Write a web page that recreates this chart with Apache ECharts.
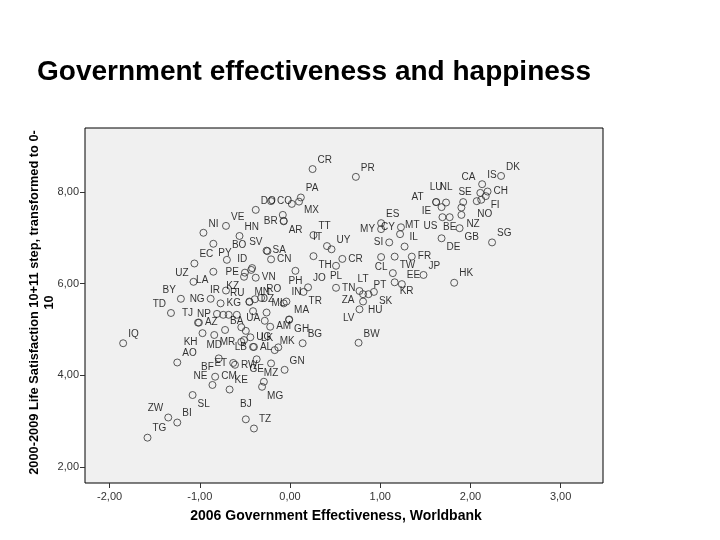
<!DOCTYPE html>
<html>
<head>
<meta charset="utf-8">
<script src="https://cdn.jsdelivr.net/npm/echarts@6/dist/echarts.min.js"></script>
<style>
  html, body { margin: 0; padding: 0; background: #fff; }
  #chart { width: 720px; height: 540px; }
</style>
</head>
<body>
<div id="chart"></div>
<script>
// country codes, '' = point drawn without a label
const codes = [
  'CR', 'PR', 'DK', 'IS', 'CA', 'CH', 'SE', 'FI', '', 'NO', '', 'NZ', 'GB', 'SG', 'US', 'BE', 'DE', 'LU', 'NL', 'AT',
  'ES', 'MY', 'CY', 'MT', 'SI', 'IL', 'TT', 'IT', 'UY', 'FR', 'TW', 'CL', 'JP', 'HK', 'EE', '', 'KR', 'CR', 'TH', 'PL',
  'JO', 'TN', 'ZA', 'LT', 'PT', 'SK', 'HU', 'LV', 'BW', 'BG', 'TR', 'IN', 'MA', 'PH', 'CN', 'SA', 'SV', 'ID', 'PE', '',
  'KZ', 'VN', 'MN', 'RO', 'DZ', 'RU', 'IR', 'KG', 'ML', '', '', 'NP', 'TJ', 'AZ', '', '', '', 'BA', 'KH', 'MD',
  'UA', '', '', 'AM', 'GH', 'UG', '', 'MR', 'LB', 'AL', 'LK', 'MK', 'GN', 'GE', 'MZ', 'RW', 'ET', 'BF', 'CM', 'KE',
  'NE', 'MG', '', 'AO', 'SL', 'ZW', 'BI', 'TG', 'BJ', 'TZ', 'IQ', 'UZ', 'LA', 'BY', 'NG', 'TD', 'EC', 'PY', 'BO', 'VE',
  'NI', 'HN', 'DO', 'CO', 'PA', 'MX', '', 'BR', 'AR', '', 'IE'
];
// 2006 Government Effectiveness (Worldbank)
const govEff = [
  0.25, 0.73, 2.34, 2.13, 2.11, 2.19, 2.07, 2.17, 2.12, 1.92, 1.90, 1.90, 1.88, 2.24, 1.69, 1.77, 1.68, 1.62, 1.73, 1.68,
  1.01, 1.01, 1.23, 1.22, 1.10, 1.27, 0.26, 0.41, 0.46, 1.35, 1.16, 1.01, 1.48, 1.82, 1.24, 1.14, 1.16, 0.58, 0.26, 0.51,
  0.20, 0.51, 0.77, 0.81, 0.87, 0.93, 0.81, 0.77, 0.76, 0.14, 0.15, -0.04, -0.01, 0.06, -0.21, -0.26, -0.25, -0.42, -0.50, -0.43,
  -0.51, -0.38, -0.45, -0.32, -0.39, -0.45, -0.71, -0.77, -0.26, -0.41, -0.07, -0.81, -1.02, -1.01, -0.74, -0.68, -0.59, -0.72, -0.97, -0.84,
  -0.54, -0.49, -0.28, -0.22, -0.01, -0.44, -0.51, -0.54, -0.41, -0.40, -0.13, -0.17, -0.06, -0.37, -0.21, -0.61, -0.63, -0.79, -0.83, -0.67,
  -0.86, -0.31, -0.29, -1.25, -1.08, -1.35, -1.25, -1.58, -0.49, -0.40, -1.85, -1.07, -0.85, -1.21, -0.88, -1.32, -1.06, -0.85, -0.70, -0.71,
  -0.96, -0.56, -0.38, -0.21, 0.12, 0.10, 0.02, -0.07, -0.07, -0.08, 1.62
];
// 2000-2009 life satisfaction, 0-10
const lifeSat = [
  8.50, 8.33, 8.35, 8.17, 7.98, 8.01, 7.80, 7.91, 7.83, 7.78, 7.66, 7.50, 7.21, 6.90, 7.45, 7.45, 6.99, 7.78, 7.77, 7.67,
  7.32, 7.19, 7.23, 7.08, 6.90, 6.81, 7.06, 6.82, 6.75, 6.59, 6.59, 6.58, 6.19, 6.02, 5.99, 6.23, 6.03, 6.54, 6.60, 6.39,
  5.92, 5.91, 5.84, 5.77, 5.77, 5.82, 5.61, 5.44, 4.71, 4.70, 5.82, 5.61, 5.22, 6.28, 6.53, 6.72, 6.71, 6.34, 6.24, 6.30,
  6.15, 6.13, 5.61, 5.69, 5.66, 5.60, 5.85, 5.57, 5.37, 5.40, 5.57, 5.34, 5.15, 5.15, 5.32, 5.32, 5.32, 4.99, 4.92, 4.88,
  5.05, 4.97, 5.19, 5.06, 5.21, 4.83, 4.77, 4.73, 4.62, 4.62, 4.61, 4.55, 4.12, 4.35, 4.26, 4.23, 4.27, 4.37, 3.97, 3.69,
  3.79, 3.75, 3.86, 4.28, 3.57, 3.08, 2.97, 2.64, 3.04, 2.84, 4.70, 6.04, 6.26, 5.67, 5.67, 5.36, 6.44, 6.87, 6.52, 7.26,
  7.11, 7.04, 7.61, 7.80, 7.88, 7.79, 7.74, 7.37, 7.36, 7.50, 7.78
];
const xTicks = [-2, -1, 0, 1, 2, 3];
const yTicks = [2, 4, 6, 8];

// where each label sits around its circle (default: upper right);
// a key may carry the point's index when a code is used twice
const labelSide = {
  CA: 'ulu', CH: 'r', SE: 'ul', FI: 'lr', NO: 'lrd', NZ: 'lr', GB: 'lr', US: 'll', BE: 'b', DE: 'lr',
  LU: 'u', NL: 'u', AT: 'ulfar', IE: 'll', MY: 'l', CY: 'l', SI: 'l', IT: 'ul', FR: 'r', TW: 'lr', CL: 'b',
  KR: 'lr', TH: 'lr', PL: 'b', TN: 'r', ZA: 'll', LT: 'u', SK: 'lr', HU: 'lr', LV: 'll', TR: 'lr',
  PH: 'b', CN: 'r', SA: 'r', SV: 'ul', ID: 'ul', PE: 'l', KZ: 'll', VN: 'r', DZ: 'r', RU: 'ul',
  IR: 'l', KG: 'r', NP: 'l', TJ: 'ul', AZ: 'r', KH: 'll', MD: 'b', GH: 'lr', UG: 'r', MR: 'l',
  LB: 'l', AL: 'r', LK: 'ul', GE: 'b', MZ: 'b', RW: 'r', ET: 'l', BF: 'll', CM: 'r', NE: 'ul',
  MG: 'lr', SL: 'lr', ZW: 'ul', BJ: 'u', UZ: 'ul', LA: 'll', BY: 'ul', NG: 'l', TD: 'ul', PY: 'lr',
  BR: 'l', AR: 'lr', MX: 'lr', AM: 'r', CO: 'r', BO: 'uru', CR37: 'r'
};
const sides = {
  ur: { position: 'right', distance: 1, offset: [0, -9] },
  uru: { position: 'right', distance: 1, offset: [0, -15] },
  r: { position: 'right', distance: 2, offset: [0, 0] },
  lr: { position: 'right', distance: 1, offset: [0, 9] },
  lrd: { position: 'right', distance: 10, offset: [0, 12] },
  ul: { position: 'left', distance: 1, offset: [0, -9] },
  ulu: { position: 'left', distance: 1, offset: [0, -16] },
  ulfar: { position: 'left', distance: 14, offset: [0, -10] },
  l: { position: 'left', distance: 2, offset: [0, 0] },
  ll: { position: 'left', distance: 1, offset: [0, 9] },
  u: { position: 'top', distance: 1, offset: [0, -5] },
  b: { position: 'bottom', distance: 1, offset: [0, 0] },
};

const FONT = '"Liberation Sans", Arial, sans-serif';
const fmt = (v) => v.toFixed(2).replace('.', ',');

const points = codes.map((c, i) => ({
  name: c,
  value: [govEff[i], lifeSat[i]],
  label: c ? { show: true, ...sides[labelSide[c + i] || labelSide[c] || 'ur'] } : { show: false },
}));

const chart = echarts.init(document.getElementById('chart'));
chart.setOption({
  animation: false,
  backgroundColor: '#fff',
  title: {
    text: 'Government effectiveness and happiness',
    left: 37,
    top: 58,
    padding: 0,
    textStyle: { fontFamily: FONT, fontSize: 28, fontWeight: 'bold', color: '#000' },
  },
  grid: {
    left: 85,
    top: 128,
    width: 518,
    height: 355,
    show: true,
    backgroundColor: '#f0f0f0',
    borderColor: '#000',
    borderWidth: 1,
  },
  xAxis: {
    type: 'value',
    min: -2.273,
    max: 3.47,
    name: '2006 Government Effectiveness, Worldbank',
    nameLocation: 'middle',
    nameGap: 26,
    nameTextStyle: { fontFamily: FONT, fontSize: 14, fontWeight: 'bold', color: '#000', padding: [0, 16, 0, 0] },
    axisLine: { show: false, onZero: false },
    axisTick: { show: true, length: 5, customValues: xTicks, lineStyle: { color: '#333' } },
    axisLabel: { customValues: xTicks, formatter: fmt, margin: 8, fontFamily: FONT, fontSize: 11, color: '#333' },
    splitLine: { show: false },
  },
  yAxis: {
    type: 'value',
    min: 1.651,
    max: 9.396,
    name: '2000-2009 Life Satisfaction 10+11 step, transformed to 0-\n10',
    nameLocation: 'middle',
    nameRotate: 90,
    nameGap: 28,
    nameMoveOverlap: false,
    nameTextStyle: {
      fontFamily: FONT, fontSize: 12.8, fontWeight: 'bold', color: '#000', lineHeight: 15, padding: [0, 0, 0, 6],
    },
    axisLine: { show: false, onZero: false },
    axisTick: { show: true, length: 5, customValues: yTicks, lineStyle: { color: '#333' } },
    axisLabel: { customValues: yTicks, formatter: fmt, margin: 6, fontFamily: FONT, fontSize: 11, color: '#333' },
    splitLine: { show: false },
  },
  series: [
    {
      type: 'scatter',
      symbol: 'circle',
      symbolSize: 7,
      data: points,
      itemStyle: { color: 'rgba(0,0,0,0)', borderColor: '#333', borderWidth: 1 },
      label: {
        formatter: '{b}',
        fontFamily: FONT,
        fontSize: 10,
        color: '#000',
      },
      emphasis: { disabled: true },
    },
  ],
});
</script>
</body>
</html>
